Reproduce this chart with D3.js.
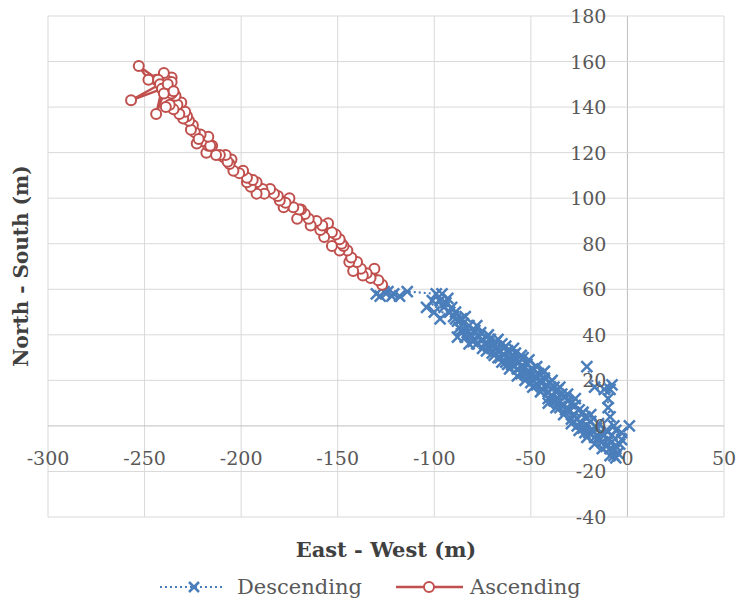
<!DOCTYPE html>
<html><head><meta charset="utf-8">
<script src="https://cdn.jsdelivr.net/npm/d3@7"></script>
<style>body{margin:0;background:#fff}svg{display:block}</style>
</head><body>
<svg id="c" width="739" height="604"></svg>
<script>
const xTicks = [-300,-250,-200,-150,-100,-50,0,50];
const yTicks = [-40,-20,0,20,40,60,80,100,120,140,160,180];
const seriesNames = ["Descending","Ascending"];
const descending = [
[-130,58],[-128,57],[-126,59],[-124,59],[-122,57],[-121,58],[-118,57],[-114,59],
[-99,58],[-104,52],[-97,55],[-96,58],[-100,50],[-95,52],[-101,55],[-93,56],[-97,47],[-92,50],[-94,54],[-89,50],[-90,48],[-91,52],[-88,46],[-86,47],[-87,43],[-89,47],[-88,39],[-84,48],[-85,45],[-86,42],[-82,36],[-83,41],[-82,44],[-84,39],[-78,44],[-80,37],[-79,42],[-81,40],[-75,34],[-77,39],[-76,41],[-78,36],[-72,40],[-74,36],[-73,39],[-75,38],[-69,31],[-72,35],[-71,38],[-73,33],[-67,38],[-70,32],[-69,36],[-70,35],[-65,28],[-68,34],[-67,30],[-68,37],[-63,35],[-66,33],[-65,36],[-66,30],[-61,25],[-64,31],[-63,28],[-64,34],[-59,34],[-62,33],[-61,30],[-62,27],[-57,22],[-60,27],[-59,31],[-60,29],[-55,31],[-58,29],[-57,25],[-58,32],[-53,20],[-56,28],[-55,26],[-54,30],[-51,29],[-55,23],[-53,23],[-52,27],[-49,17],[-51,24],[-50,19],[-49,25],[-47,26],[-50,22],[-48,22],[-47,18],[-45,15],[-46,23],[-47,21],[-45,20],[-43,24],[-44,16],[-43,21],[-44,19],[-41,10],[-42,18],[-41,15],[-40,19],[-39,20],[-41,12],[-39,13],[-38,17],[-37,8],[-37,15],[-38,11],[-36,16],[-35,17],[-35,11],[-34,14],[-35,8],[-33,5],[-33,9],[-32,13],[-31,11],[-31,14],[-32,7],[-30,7],[-29,10],[-29,1],[-28,5],[-29,3],[-27,9],[-27,12],[-26,3],[-25,7],[-26,0],[-25,-2],[-24,1],[-23,-1],[-23,6],[-22,4],[-21,0],[-21,-5],[-22,-3],[-20,-3],[-19,2],[-19,5],[-18,-2],[-17,-5],[-17,-8],[-16,-1],[-15,-5],[-15,1],[-14,-3],[-13,-7],[-13,-10],[-12,-4],[-11,-9],[-11,-2],[-10,-6],[-9,-10],[-9,-13],[-8,-7],[-8,-4],[-7,-11],[-6,-9],[-6,-14],[-5,-12],[-7,-13],[-4,-8],[-3,-6],[1,0],[-3,-3],[-6,-2],[-7,0],[-9,4],[-10,8],[-10,12],[-8,18],[-9,16],[-12,16],[-17,17],[-21,26]
];
const ascending = [
[-127,62],[-129,64],[-131,69],[-133,65],[-135,67],[-137,66],[-138,69],[-142,68],[-140,72],[-144,72],[-143,74],[-145,77],[-149,77],[-147,79],[-148,80],[-153,79],[-149,82],[-151,84],[-153,85],[-157,83],[-155,89],[-159,86],[-158,88],[-161,90],[-164,88],[-165,91],[-167,93],[-171,91],[-169,95],[-170,95],[-173,96],[-175,100],[-178,96],[-177,98],[-180,99],[-181,101],[-183,102],[-185,104],[-189,104],[-188,102],[-192,102],[-192,107],[-195,105],[-197,107],[-194,108],[-197,109],[-199,112],[-201,111],[-204,112],[-205,117],[-206,115],[-209,118],[-207,116],[-208,119],[-211,119],[-213,119],[-215,123],[-218,120],[-217,123],[-220,125],[-216,123],[-217,127],[-221,128],[-223,124],[-224,129],[-222,126],[-225,132],[-226,130],[-227,134],[-228,136],[-230,135],[-229,138],[-232,137],[-231,142],[-233,141],[-235,139],[-237,141],[-239,140],[-234,145],[-236,146],[-239,147],[-241,148],[-237,149],[-236,153],[-239,152],[-240,155],[-236,151],[-244,152],[-248,152],[-253,158],[-243,152],[-242,150],[-257,143],[-241,148],[-244,137],[-240,146],[-238,150],[-235,147]
];

const svg = d3.select("#c");
const x = d3.scaleLinear().domain([-300,50]).range([48,724]);
const y = d3.scaleLinear().domain([-40,180]).range([517,16]);
const font = "'DejaVu Serif', 'Liberation Serif', serif";
const grey = "#595959";
const blue = "#4a7ebb", red = "#c0504d";

// gridlines
const g = svg.append("g");
g.selectAll("line.vx").data(xTicks).join("line")
  .attr("x1", d=>x(d)).attr("x2", d=>x(d)).attr("y1", y(-40)).attr("y2", y(180))
  .attr("stroke", d=>d===0?"#bfbfbf":"#d9d9d9").attr("stroke-width",1);
g.selectAll("line.hy").data(yTicks).join("line")
  .attr("y1", d=>y(d)).attr("y2", d=>y(d)).attr("x1", x(-300)).attr("x2", x(50))
  .attr("stroke", d=>d===0?"#bfbfbf":"#d9d9d9").attr("stroke-width",1);

// series
const lineGen = d3.line().x(d=>x(d[0])).y(d=>y(d[1]));
svg.append("path").datum(descending).attr("d", lineGen).attr("fill","none")
  .attr("stroke", blue).attr("stroke-width",2.2).attr("stroke-dasharray","2,3");
svg.append("path").datum(ascending).attr("d", lineGen).attr("fill","none")
  .attr("stroke", red).attr("stroke-width",2.4);

function xMark(sel, s){
  sel.append("path").attr("d", `M${-s},${-s}L${s},${s}M${-s},${s}L${s},${-s}`)
    .attr("stroke", blue).attr("stroke-width",2.5).attr("fill","none");
}
svg.append("g").selectAll("g").data(descending).join("g")
  .attr("transform", d=>`translate(${x(d[0])},${y(d[1])})`).call(xMark, 5.5);
svg.append("g").selectAll("circle").data(ascending).join("circle")
  .attr("cx", d=>x(d[0])).attr("cy", d=>y(d[1])).attr("r",5)
  .attr("fill","#fff").attr("stroke", red).attr("stroke-width",2);

// axis labels
const fmt = d => d<0 ? "-"+Math.abs(d) : String(d);
svg.append("g").selectAll("text").data(xTicks).join("text")
  .attr("x", d=>x(d)).attr("y", y(0)+39).attr("text-anchor","middle")
  .attr("font-family", font).attr("font-size",19).attr("fill", grey).text(fmt);
svg.append("g").selectAll("text").data(yTicks).join("text")
  .attr("x", x(0)-21).attr("y", d=>y(d)+7).attr("text-anchor","end")
  .attr("font-family", font).attr("font-size",19).attr("fill", grey).text(fmt);

// titles
svg.append("text").attr("x",386).attr("y",557).attr("text-anchor","middle")
  .attr("font-family", font).attr("font-weight","bold").attr("font-size",21).attr("fill","#404040")
  .text("East - West (m)");
svg.append("text").attr("transform","translate(28,266) rotate(-90)").attr("text-anchor","middle")
  .attr("font-family", font).attr("font-weight","bold").attr("font-size",20).attr("fill","#404040")
  .text("North - South (m)");

// legend
const lg = svg.append("g");
lg.append("line").attr("x1",160).attr("x2",224).attr("y1",587).attr("y2",587)
  .attr("stroke",blue).attr("stroke-width",2.2).attr("stroke-dasharray","2,3");
lg.append("g").attr("transform","translate(194,587)").call(xMark,5);
lg.append("text").attr("x",237).attr("y",594).attr("font-family",font).attr("font-size",21).attr("fill",grey).text(seriesNames[0]);
lg.append("line").attr("x1",396).attr("x2",463).attr("y1",587).attr("y2",587)
  .attr("stroke",red).attr("stroke-width",2.4);
lg.append("circle").attr("cx",429).attr("cy",587).attr("r",5).attr("fill","#fff").attr("stroke",red).attr("stroke-width",2);
lg.append("text").attr("x",470).attr("y",594).attr("font-family",font).attr("font-size",21).attr("fill",grey).text(seriesNames[1]);
</script>
</body></html>
